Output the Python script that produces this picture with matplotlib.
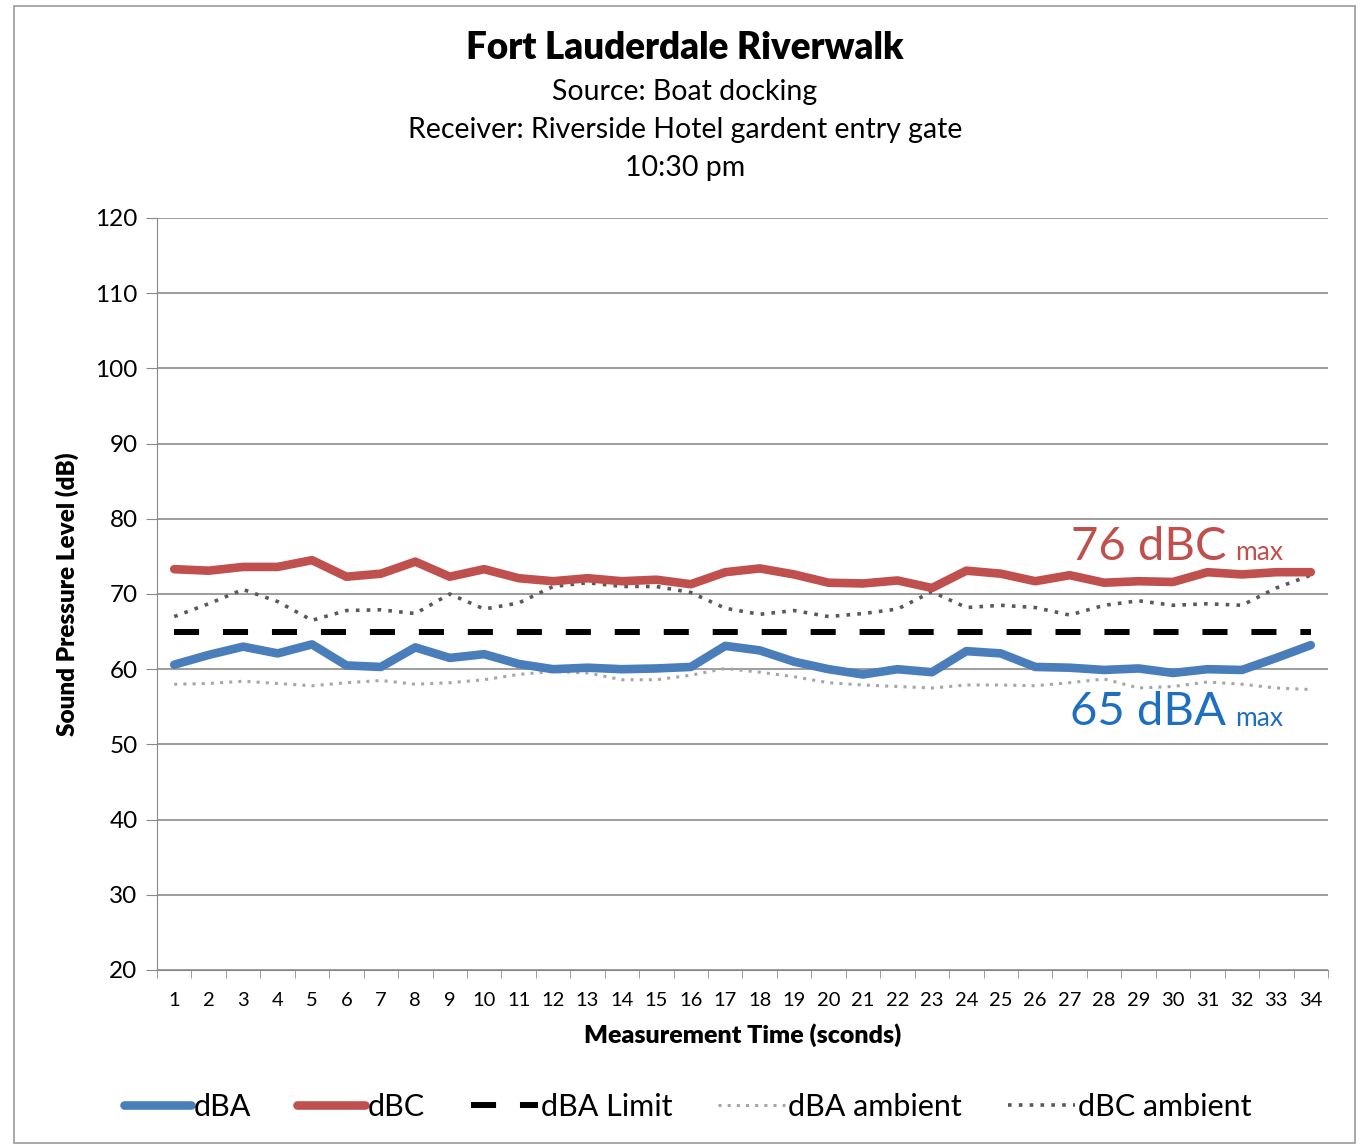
import matplotlib.pyplot as plt
from matplotlib.patches import Rectangle

plt.rcParams['font.family'] = ['Lato', 'DejaVu Sans']

# measurement times (seconds)
seconds = list(range(1, 35))

dba = [60.6, 61.9, 63.0, 62.1, 63.3, 60.5, 60.3, 62.9, 61.5, 62.0,
       60.7, 60.0, 60.2, 60.0, 60.1, 60.3, 63.1, 62.5, 61.0, 60.0,
       59.3, 60.0, 59.6, 62.4, 62.1, 60.3, 60.2, 59.9, 60.1, 59.5,
       60.0, 59.9, 61.5, 63.2]
dbc = [73.3, 73.1, 73.6, 73.6, 74.5, 72.3, 72.7, 74.3, 72.3, 73.3,
       72.1, 71.7, 72.1, 71.7, 71.9, 71.3, 72.9, 73.4, 72.6, 71.5,
       71.4, 71.8, 70.8, 73.1, 72.7, 71.7, 72.5, 71.5, 71.7, 71.6,
       72.9, 72.6, 72.9, 72.9]
dba_limit = [65] * 34
dba_ambient = [58.0, 58.1, 58.4, 58.1, 57.8, 58.2, 58.5, 58.0, 58.2, 58.6,
               59.3, 59.7, 59.5, 58.6, 58.6, 59.2, 60.1, 59.6, 59.0, 58.2,
               57.9, 57.7, 57.5, 57.9, 57.9, 57.8, 58.2, 58.7, 57.5, 57.7,
               58.3, 58.0, 57.5, 57.3]
dbc_ambient = [67.0, 68.7, 70.6, 69.0, 66.5, 67.8, 67.9, 67.4, 70.0, 68.0,
               68.8, 71.0, 71.5, 71.0, 71.0, 70.2, 68.1, 67.3, 67.8, 67.0,
               67.4, 68.0, 70.3, 68.2, 68.5, 68.2, 67.2, 68.5, 69.1, 68.5,
               68.7, 68.5, 70.8, 72.5]

fig = plt.figure(figsize=(13.62, 11.45), dpi=100)
ax = fig.add_axes([157/1362, 1 - 970/1145, (1328-157)/1362, (970-218)/1145])

# outer chart frame
fig.patches.append(Rectangle((14/1362, 0.002), (1355-14)/1362, 1 - 0.002 - 6/1145,
                             transform=fig.transFigure, fill=False,
                             edgecolor='#9a9a9a', linewidth=1.2))

ax.plot(seconds, dba_ambient, color='#a6a6a6', linestyle=(0, (1, 2)), linewidth=2.2, label='dBA ambient', zorder=2)
ax.plot(seconds, dbc_ambient, color='#595959', linestyle=(0, (1, 2)), linewidth=2.6, label='dBC ambient', zorder=2)
ax.plot(seconds, dba_limit, color='black', linestyle=(0, (4.2, 4)), linewidth=4.3, label='dBA Limit', zorder=3)
ax.plot(seconds, dba, color='#4a7ebb', linewidth=6.2, solid_capstyle='round', label='dBA', zorder=4)
ax.plot(seconds, dbc, color='#c0504d', linewidth=6.2, solid_capstyle='round', label='dBC', zorder=4)

ax.set_xlim(0.5, 34.5)
ax.set_ylim(20, 120)
ax.set_yticks(range(20, 121, 10))
ax.set_xticks(seconds)
ax.set_xticks([s + 0.5 for s in range(0, 35)], minor=True)
ax.tick_params(axis='x', which='major', length=0, labelsize=14.5, pad=16)
ax.tick_params(axis='x', which='minor', length=6, color='#888888')
ax.tick_params(axis='y', length=8, color='#888888', labelsize=17.5, pad=6)
ax.yaxis.grid(True, color='#8c8c8c', linewidth=1.2)
ax.set_axisbelow(True)
for s in ['top', 'right']:
    ax.spines[s].set_visible(False)
ax.spines['left'].set_color('#888888')
ax.spines['bottom'].set_color('#888888')

ax.set_ylabel('Sound Pressure Level (dB)', fontsize=17.5, fontweight='heavy', labelpad=12)
ax.set_xlabel('Measurement Time (sconds)', fontsize=18, fontweight='heavy', labelpad=10)

fig.text(0.503, 1 - 48/1145, 'Fort Lauderdale Riverwalk', ha='center', va='center', fontsize=26.5, fontweight='heavy')
fig.text(0.503, 1 - 92/1145, 'Source: Boat docking', ha='center', va='center', fontsize=20.5)
fig.text(0.503, 1 - 130/1145, 'Receiver: Riverside Hotel gardent entry gate', ha='center', va='center', fontsize=20.5)
fig.text(0.503, 1 - 168/1145, '10:30 pm', ha='center', va='center', fontsize=20.5)

ax.text(31.9, 76.3, '76 dBC ', ha='right', va='center', fontsize=34, color='#c0504d')
ax.text(31.8, 75.5, 'max', ha='left', va='center', fontsize=19, color='#c0504d')
ax.text(31.9, 54.3, '65 dBA ', ha='right', va='center', fontsize=34, color='#1f6fc0')
ax.text(31.8, 53.5, 'max', ha='left', va='center', fontsize=19, color='#1f6fc0')

handles, labels = ax.get_legend_handles_labels()
order = [3, 4, 2, 0, 1]
fig.legend([handles[i] for i in order], [labels[i] for i in order],
           loc='center', bbox_to_anchor=(0.505, 1 - 1107/1145), ncol=5, frameon=False,
           fontsize=22, handlelength=2.2, handletextpad=0.1, columnspacing=1.5)

fig.savefig('out.png', dpi=100)
